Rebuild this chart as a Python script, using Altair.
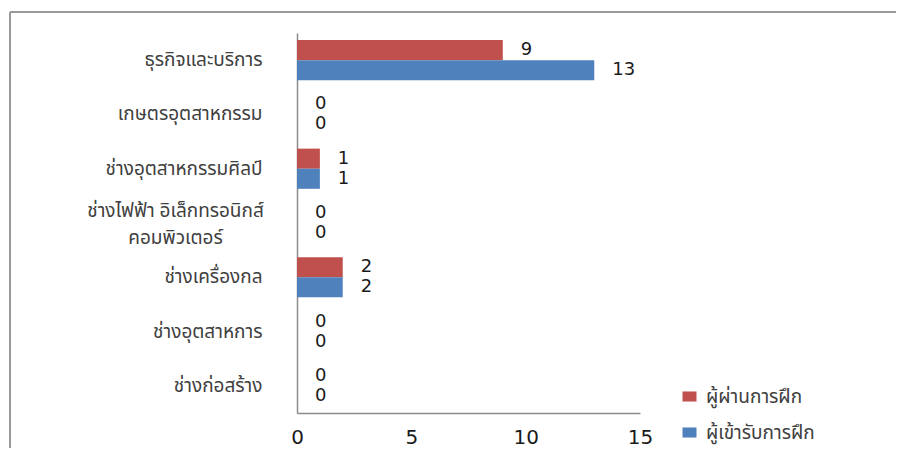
import altair as alt
import pandas as pd

categories = [
    "ธุรกิจและบริการ",
    "เกษตรอุตสาหกรรม",
    "ช่างอุตสาหกรรมศิลป์",
    "ช่างไฟฟ้า อิเล็กทรอนิกส์ คอมพิวเตอร์",
    "ช่างเครื่องกล",
    "ช่างอุตสาหการ",
    "ช่างก่อสร้าง",
]
series_names = ["ผู้ผ่านการฝึก", "ผู้เข้ารับการฝึก"]
passed = [9, 0, 1, 0, 2, 0, 0]
enrolled = [13, 0, 1, 0, 2, 0, 0]
x_ticks = [0, 5, 10, 15]
colors = ["#C0504D", "#4F81BD"]

rows = []
for c, p, e in zip(categories, passed, enrolled):
    rows.append({"cat": c, "series": series_names[0], "value": p})
    rows.append({"cat": c, "series": series_names[1], "value": e})
df = pd.DataFrame(rows)

label_expr = (
    "indexof(datum.label, 'คอมพิวเตอร์') > 0 ? "
    "['ช่างไฟฟ้า อิเล็กทรอนิกส์', 'คอมพิวเตอร์'] : datum.label"
)
wrapped_test = "indexof(datum.value, 'คอมพิวเตอร์') > 0"

num_font = "DejaVu Sans"
thai_font = "Tahoma, Noto Sans Thai, Loma, Garuda, DejaVu Sans, sans-serif"
thai_size = 19

y_enc = alt.Y(
    "cat:N",
    sort=categories,
    scale=alt.Scale(paddingInner=0.26, paddingOuter=0.13),
    axis=alt.Axis(
        title=None,
        ticks=False,
        labelExpr=label_expr,
        labelFont=thai_font,
        labelFontSize=thai_size,
        labelColor="#404040",
        labelPadding={"condition": {"test": wrapped_test, "value": 122}, "value": 35},
        labelAlign={"condition": {"test": wrapped_test, "value": "center"}, "value": "right"},
        labelLineHeight=27,
        labelOffset={"condition": {"test": wrapped_test, "value": -12}, "value": 0},
        domainColor="#8c8c8c",
        domainWidth=1.5,
        labelLimit=400,
    ),
)
y_off = alt.YOffset("series:N", sort=series_names, scale=alt.Scale(domain=series_names))
x_enc = alt.X(
    "value:Q",
    scale=alt.Scale(domain=[0, 15], nice=False),
    axis=alt.Axis(
        title=None,
        values=x_ticks,
        ticks=False,
        grid=False,
        labelFont=num_font,
        labelFontSize=20,
        labelColor="#1a1a1a",
        labelPadding=14,
        domainColor="#8c8c8c",
        domainWidth=1.5,
        labelFlush=False,
    ),
)

bars = alt.Chart(df).mark_bar(stroke=None).encode(
    y=y_enc,
    yOffset=y_off,
    x=x_enc,
    color=alt.Color(
        "series:N",
        sort=series_names,
        scale=alt.Scale(domain=series_names, range=colors),
        legend=alt.Legend(
            title=None,
            orient="none",
            legendX=383,
            legendY=354,
            symbolType="M-1,-0.72H1V0.72H-1Z",
            symbolSize=196,
            symbolStrokeWidth=0,
            labelFont=thai_font,
            labelFontSize=thai_size,
            labelColor="#404040",
            labelOffset=7,
            rowPadding=16,
            padding=0,
        ),
    ),
)

labels = alt.Chart(df).mark_text(
    align="left", baseline="middle", dx=18, font=num_font, fontSize=18, color="#1a1a1a"
).encode(
    y=alt.Y("cat:N", sort=categories),
    yOffset=y_off,
    x=alt.X("value:Q"),
    text=alt.Text("value:Q"),
)

frame_top = alt.Chart(df).mark_rule(color="#9a9a9a", strokeWidth=2).encode(
    x=alt.value(-287), x2=alt.value(599), y=alt.value(-21)
)
frame_left = alt.Chart(df).mark_rule(color="#9a9a9a", strokeWidth=2).encode(
    x=alt.value(-287), y=alt.value(-21), y2=alt.value(460)
)

chart = (
    alt.layer(bars, labels, frame_top, frame_left)
    .properties(
        width=343,
        height=380,
        padding={"left": 289, "top": 25, "right": 256, "bottom": 35},
        autosize=alt.AutoSizeParams(type="none"),
    )
    .configure_view(stroke=None)
)

chart.save("out.html", embed_options={"renderer": "svg", "actions": False})
